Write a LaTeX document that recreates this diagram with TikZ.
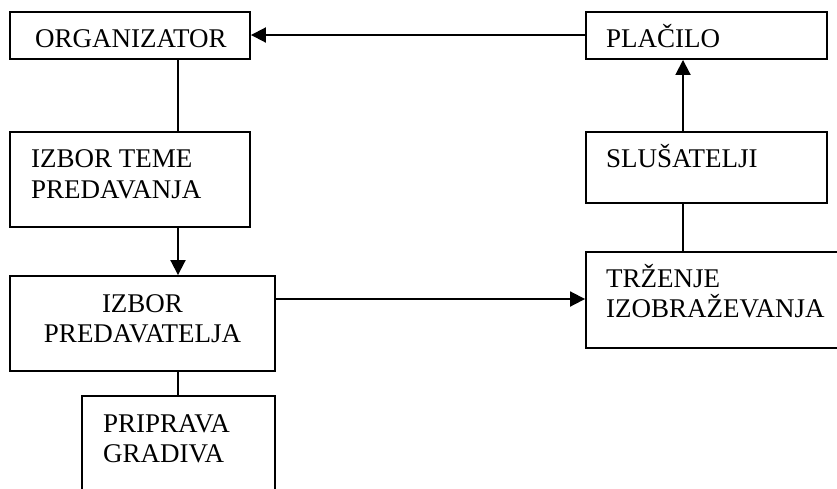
\documentclass[tikz,border=0pt]{standalone}
\usepackage{fontspec}
\setmainfont{Liberation Serif}
\usetikzlibrary{arrows.meta}
\begin{document}
\begin{tikzpicture}[x=1pt,y=-1pt,
  box/.style={draw,line width=1.9pt,rectangle,inner sep=0pt},
  lbl/.style={inner sep=0pt,anchor=base west,font=\fontsize{27}{31}\selectfont},
  conn/.style={line width=1.9pt},
  arr/.style={line width=1.9pt,-{Triangle[length=15pt,width=15pt]}}]
\useasboundingbox (0,0) rectangle (837,488);
\clip (0,0) rectangle (837,488);
% boxes
\node[box,minimum width=240pt,minimum height=47pt] (org) at (130,35.5) {};
\node[box,minimum width=241pt,minimum height=47pt] (plac) at (706.5,35.5) {};
\node[box,minimum width=240pt,minimum height=95pt] (teme) at (130,179.5) {};
\node[box,minimum width=265pt,minimum height=95pt] (pred) at (142.5,323.5) {};
\node[box,minimum width=193pt,minimum height=96pt] (prip) at (178.5,444) {};
\node[box,minimum width=241pt,minimum height=71pt] (slus) at (706.5,167.5) {};
\node[box,minimum width=260pt,minimum height=96pt] (trz) at (716,300) {};
% texts
\node[lbl] (t1) at (35,47) {ORGANIZATOR};
\node[lbl] (t2) at (606,47) {PLAČILO};
\node[lbl] (t3) at (31,167) {IZBOR TEME};
\node[lbl] (t4) at (31,198) {PREDAVANJA};
\node[lbl,anchor=base] (t5) at (142.5,312) {IZBOR};
\node[lbl,anchor=base] (t6) at (142.5,342) {PREDAVATELJA};
\node[lbl] (t7) at (103,432) {PRIPRAVA};
\node[lbl] (t8) at (103,462) {GRADIVA};
\node[lbl] (t9) at (606,167) {SLUŠATELJI};
\node[lbl] (t10) at (606,287) {TRŽENJE};
\node[lbl] (t11) at (606,317) {IZOBRAŽEVANJA};
% connectors
\draw[arr] (plac.west |- 0,35) -- (org.east |- 0,35);
\draw[conn] (org.south -| 178,0) -- (teme.north -| 178,0);
\draw[arr] (teme.south -| 178,0) -- (pred.north -| 178,0);
\draw[conn] (pred.south -| 178,0) -- (prip.north -| 178,0);
\draw[arr] (pred.east |- 0,299) -- (trz.west |- 0,299);
\draw[arr] (slus.north -| 683,0) -- (plac.south -| 683,0);
\draw[conn] (slus.south -| 683,0) -- (trz.north -| 683,0);
\end{tikzpicture}
\end{document}
